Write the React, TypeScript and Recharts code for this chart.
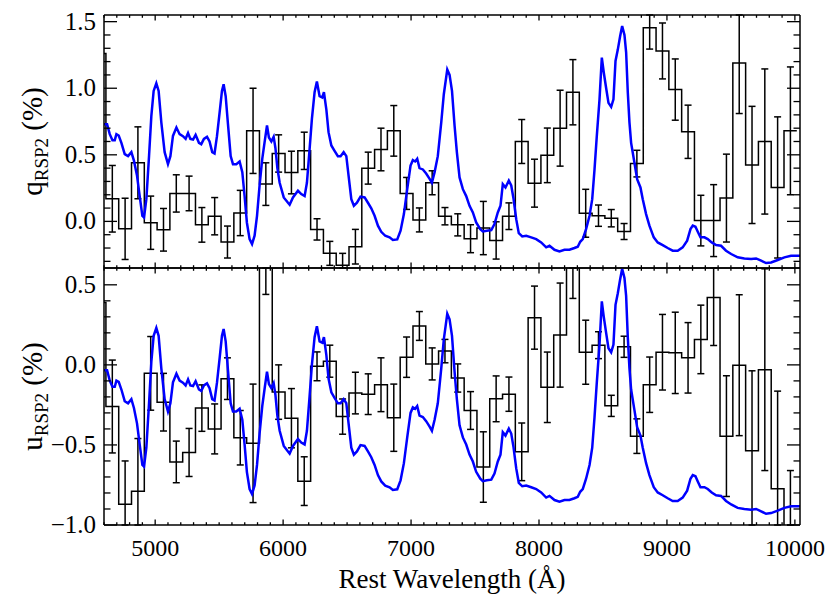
import React from 'react';
import { ComposedChart, Line, XAxis, YAxis, ErrorBar } from 'recharts';

const FONT = '"Liberation Serif", "Times New Roman", serif';

// ---- binned polarization (bin centres, 100 Å bins) ----
const BIN_CENTERS = [
  4665, 4765, 4865, 4965, 5065, 5165, 5265, 5365, 5465, 5565,
  5665, 5765, 5865, 5965, 6065, 6165, 6265, 6365, 6465, 6565,
  6665, 6765, 6865, 6965, 7065, 7165, 7265, 7365, 7465, 7565,
  7665, 7765, 7865, 7965, 8065, 8165, 8265, 8365, 8465, 8565,
  8665, 8765, 8865, 8965, 9065, 9165, 9265, 9365, 9465, 9565,
  9665, 9765, 9865, 9965,
];
const BIN_WIDTH = 100;

const Q_LEAD = 1.26; // bin just left of the plotted range
const Q_VALUES = [
  0.17, -0.056, 0.44, -0.01, -0.063, 0.21, 0.21, -0.026, 0.039, -0.155,
  0.063, 0.68, 0.28, 0.51, 0.367, 0.53, -0.06, -0.24, -0.33, -0.19,
  0.40, 0.54, 0.68, 0.21, 0.011, 0.29, 0.039, -0.026, -0.13, -0.05,
  -0.143, 0.039, 0.60, 0.287, 0.496, 0.70, 0.97, 0.061, 0.043, 0.024,
  -0.076, 0.434, 1.454, 1.28, 0.99, 0.673, 0.006, 0.006, 0.175, 1.19,
  0.424, 0.60, 0.255, 0.68,
];
const Q_ERRORS = [
  0.25, 0.23, 0.27, 0.20, 0.16, 0.14, 0.13, 0.13, 0.14, 0.12,
  0.17, 0.32, 0.16, 0.14, 0.16, 0.14, 0.08, 0.09, 0.09, 0.13,
  0.12, 0.16, 0.19, 0.12, 0.09, 0.09, 0.065, 0.083, 0.105, 0.20,
  0.14, 0.10, 0.165, 0.18, 0.205, 0.285, 0.245, 0.18, 0.08, 0.065,
  0.06, 0.10, 0.16, 0.21, 0.23, 0.20, 0.19, 0.27, 0.33, 0.38,
  0.44, 0.545, 0.53, 0.48,
];

const U_LEAD = 0.39;
const U_VALUES = [
  -0.26, -0.87, -0.79, -0.053, -0.233, -0.606, -0.547, -0.27, -0.40, -0.086,
  -0.455, -0.49, 0.75, -0.17, -0.333, -0.726, -0.009, 0.023, -0.323, -0.176,
  -0.183, -0.124, -0.33, 0.048, 0.243, 0.006, 0.086, -0.082, -0.285, -0.638,
  -0.212, -0.183, -0.543, 0.295, -0.14, 0.186, 0.72, 0.079, 0.123, -0.256,
  0.113, -0.445, -0.124, 0.079, 0.075, 0.044, 0.159, 0.421, -0.445, -0.002,
  -0.537, -0.03, -0.774, -1.10,
];
const U_ERRORS = [
  0.29, 0.27, 0.33, 0.23, 0.18, 0.13, 0.15, 0.145, 0.156, 0.13,
  0.17, 0.37, 0.31, 0.17, 0.185, 0.152, 0.09, 0.10, 0.11, 0.13,
  0.127, 0.168, 0.21, 0.126, 0.09, 0.10, 0.073, 0.088, 0.118, 0.22,
  0.143, 0.107, 0.18, 0.197, 0.22, 0.325, 0.305, 0.20, 0.084, 0.066,
  0.066, 0.108, 0.173, 0.236, 0.254, 0.22, 0.214, 0.30, 0.377, 0.44,
  0.50, 0.63, 0.61, 0.44,
];

// ---- scaled flux spectrum (in q-panel units) ----
const SPEC_WAVE = [
  4598, 4624, 4645, 4666, 4684, 4697, 4715, 4736, 4762, 4788, 4814, 4834, 4858, 4879, 4900, 4913,
  4931, 4952, 4970, 4988, 5009, 5027, 5048, 5074, 5100, 5119, 5139, 5166, 5191, 5217, 5238, 5257,
  5275, 5296, 5316, 5342, 5360, 5381, 5405, 5425, 5446, 5464, 5483, 5504, 5522, 5535, 5551, 5569,
  5590, 5608, 5634, 5660, 5681, 5699, 5717, 5738, 5757, 5777, 5796, 5816, 5837, 5855, 5874, 5889,
  5908, 5926, 5940, 5955, 5973, 6005, 6038, 6051, 6077, 6116, 6142, 6168, 6186, 6207, 6225, 6246,
  6264, 6285, 6306, 6319, 6338, 6355, 6377, 6402, 6428, 6449, 6473, 6494, 6512, 6533, 6553, 6577,
  6605, 6637, 6663, 6689, 6715, 6741, 6767, 6798, 6832, 6858, 6892, 6918, 6944, 6970, 6996, 7014,
  7032, 7048, 7066, 7092, 7118, 7145, 7163, 7184, 7209, 7236, 7256, 7283, 7301, 7320, 7340, 7358,
  7379, 7405, 7431, 7457, 7483, 7509, 7541, 7561, 7592, 7627, 7652, 7678, 7699, 7717, 7738, 7764,
  7783, 7801, 7822, 7842, 7869, 7900, 7939, 7978, 8017, 8056, 8082, 8121, 8160, 8199, 8238, 8277,
  8303, 8322, 8342, 8368, 8395, 8416, 8434, 8452, 8473, 8491, 8506, 8525, 8543, 8564, 8582, 8598,
  8616, 8634, 8650, 8668, 8681, 8694, 8707, 8720, 8746, 8767, 8793, 8811, 8837, 8863, 8897, 8928,
  8967, 9006, 9045, 9084, 9123, 9158, 9184, 9202, 9223, 9241, 9262, 9293, 9319, 9350, 9384, 9423,
  9462, 9502, 9553, 9605, 9658, 9697, 9736, 9775, 9814, 9866, 9918, 9970, 10045,
];
const SPEC_FLUX = [
  0.73, 0.73, 0.655, 0.61, 0.61, 0.655, 0.645, 0.59, 0.505, 0.49, 0.52, 0.456, 0.344, 0.19, 0.042, 0.03,
  0.167, 0.49, 0.79, 0.98, 1.037, 0.98, 0.744, 0.52, 0.43, 0.49, 0.642, 0.705, 0.655, 0.64, 0.62, 0.664,
  0.62, 0.615, 0.65, 0.59, 0.58, 0.62, 0.635, 0.60, 0.52, 0.51, 0.64, 0.82, 0.98, 1.03, 0.94, 0.73,
  0.49, 0.43, 0.43, 0.45, 0.37, 0.19, -0.01, -0.133, -0.17, -0.107, 0.042, 0.27, 0.47, 0.594, 0.72, 0.63,
  0.60, 0.635, 0.55, 0.40, 0.29, 0.18, 0.14, 0.125, 0.18, 0.23, 0.205, 0.19, 0.29, 0.542, 0.77, 0.97,
  1.05, 0.94, 0.93, 0.97, 0.84, 0.67, 0.57, 0.53, 0.49, 0.49, 0.52, 0.49, 0.34, 0.167, 0.117, 0.14,
  0.186, 0.18, 0.14, 0.098, 0.042, -0.032, -0.078, -0.108, -0.12, -0.14, -0.135, -0.07, 0.055, 0.242, 0.42, 0.46,
  0.45, 0.47, 0.40, 0.39, 0.36, 0.32, 0.29, 0.37, 0.49, 0.744, 0.955, 1.14, 1.10, 0.98, 0.72, 0.52,
  0.33, 0.242, 0.19, 0.117, 0.067, -0.008, -0.058, -0.076, -0.07, -0.065, -0.02, 0.067, 0.117, 0.28, 0.255, 0.306,
  0.27, 0.17, 0.017, -0.088, -0.113, -0.108, -0.12, -0.133, -0.158, -0.195, -0.183, -0.213, -0.225, -0.213, -0.213, -0.20,
  -0.19, -0.153, -0.133, -0.058, 0.042, 0.167, 0.39, 0.644, 0.917, 1.23, 1.12, 1.0, 0.89, 0.86, 0.917, 1.205,
  1.29, 1.39, 1.467, 1.40, 1.27, 0.97, 0.744, 0.59, 0.44, 0.317, 0.255, 0.167, 0.055, -0.032, -0.12, -0.158,
  -0.178, -0.20, -0.22, -0.22, -0.195, -0.145, -0.058, -0.032, -0.04, -0.078, -0.12, -0.12, -0.133, -0.158, -0.178, -0.183,
  -0.22, -0.245, -0.27, -0.278, -0.283, -0.278, -0.295, -0.313, -0.308, -0.29, -0.27, -0.258, -0.258,
];
// the same spectrum is drawn in the u panel with this offset / gain
const U_SPEC_OFFSET = -0.661;
const U_SPEC_GAIN = 0.8596;

// ---- axes ----
const X_DOMAIN: [number, number] = [4600, 10040];
const Q_DOMAIN: [number, number] = [-0.35, 1.55];
const U_DOMAIN: [number, number] = [-1.0, 0.605];
const X_MAJOR = [5000, 6000, 7000, 8000, 9000, 10000];
const X_TICKS: number[] = [];
for (let w = 4600; w <= 10000; w += 100) X_TICKS.push(w);
const Q_TICKS = [-0.3, -0.2, -0.1, 0, 0.1, 0.2, 0.3, 0.4, 0.5, 0.6, 0.7, 0.8, 0.9, 1.0, 1.1, 1.2, 1.3, 1.4, 1.5];
const U_TICKS = [-1.0, -0.9, -0.8, -0.7, -0.6, -0.5, -0.4, -0.3, -0.2, -0.1, 0, 0.1, 0.2, 0.3, 0.4, 0.5];

// ---- tables built from the arrays ----
function histTable(lead: number, vals: number[]) {
  const rows = [{ x: BIN_CENTERS[0] - 1.5 * BIN_WIDTH, y: lead }];
  vals.forEach((v, i) => rows.push({ x: BIN_CENTERS[i] - BIN_WIDTH / 2, y: v }));
  rows.push({ x: BIN_CENTERS[BIN_CENTERS.length - 1] + BIN_WIDTH / 2, y: vals[vals.length - 1] });
  return rows;
}
// error bars are limited to the visible y range (the library does not clip them)
function errTable(vals: number[], errs: number[], dom: [number, number]) {
  return vals.map((v, i) => {
    const lo = Math.max(v - errs[i], dom[0]);
    const hi = Math.min(v + errs[i], dom[1]);
    return { x: BIN_CENTERS[i], y: v, e: [v - lo, hi - v] };
  });
}
const qHist = histTable(Q_LEAD, Q_VALUES);
const uHist = histTable(U_LEAD, U_VALUES);
const qErr = errTable(Q_VALUES, Q_ERRORS, Q_DOMAIN);
const uErr = errTable(U_VALUES, U_ERRORS, U_DOMAIN);
const qSpec = SPEC_WAVE.map((w, i) => ({ x: w, y: SPEC_FLUX[i] }));
const uSpec = SPEC_WAVE.map((w, i) => ({ x: w, y: U_SPEC_OFFSET + U_SPEC_GAIN * SPEC_FLUX[i] }));

const fmt = (v: number) => (v < -1e-9 ? '\u2212' : '') + Math.abs(v).toFixed(1);
const isMajorY = (v: number) => Math.abs(v * 2 - Math.round(v * 2)) < 1e-6;

function makeXTick(side: 'top' | 'bottom', labels: boolean) {
  return (props: any) => {
    const { x, y, payload } = props;
    const v = payload.value as number;
    const major = X_MAJOR.includes(v);
    const len = major ? 5.5 : 2.8;
    const dir = side === 'bottom' ? -1 : 1;
    return (
      <g>
        <line x1={x} x2={x} y1={y} y2={y + dir * len} stroke="#000" strokeWidth={1.3} />
        {labels && major ? (
          <text x={x} y={y + 31} textAnchor="middle" fontFamily={FONT} fontSize={24} fill="#000">
            {v}
          </text>
        ) : null}
      </g>
    );
  };
}

function makeYTick(side: 'left' | 'right', labels: boolean) {
  return (props: any) => {
    const { x, y, payload } = props;
    const v = payload.value as number;
    const major = isMajorY(v);
    const len = major ? 13 : 6.5;
    const dir = side === 'left' ? 1 : -1;
    return (
      <g>
        <line x1={x} x2={x + dir * len} y1={y} y2={y} stroke="#000" strokeWidth={1.3} />
        {labels && major ? (
          <text x={x - 8} y={y + 8} textAnchor="end" fontFamily={FONT} fontSize={25} fill="#000">
            {fmt(v)}
          </text>
        ) : null}
      </g>
    );
  };
}

function yTitle(sym: string, cy: number) {
  return () => (
    <text
      x={42}
      y={cy}
      transform={`rotate(-90 42 ${cy})`}
      textAnchor="middle"
      fontFamily={FONT}
      fontSize={29}
      fill="#000"
    >
      {sym}
      <tspan fontSize={19} dy={6}>RSP2</tspan>
      <tspan dy={-6}> (%)</tspan>
    </text>
  );
}

const xTitle = () => (
  <text x={452} y={588} textAnchor="middle" fontFamily={FONT} fontSize={27} fill="#000">
    Rest Wavelength (Å)
  </text>
);

const AXIS_LINE = { stroke: '#000', strokeWidth: 1.5 };

function Panel(props: {
  top: number;
  bottom: number;
  domain: [number, number];
  ticks: number[];
  hist: { x: number; y: number }[];
  err: { x: number; y: number; e: number[] }[];
  spec: { x: number; y: number }[];
  sym: string;
  xLabels: boolean;
}) {
  const { top, bottom, domain, ticks, hist, err, spec, sym, xLabels } = props;
  const cy = (top + bottom) / 2;
  return (
    <div style={{ position: 'absolute', left: 0, top: 0 }}>
      <ComposedChart width={830} height={600} margin={{ top: top - 1, right: 0, bottom: 600 - bottom - 1, left: 0 }}>
        <XAxis
          xAxisId="b"
          orientation="bottom"
          type="number"
          dataKey="x"
          domain={X_DOMAIN}
          allowDataOverflow
          ticks={X_TICKS}
          interval={0}
          height={1}
          tickSize={0}
          tickMargin={0}
          tickLine={false}
          axisLine={AXIS_LINE}
          tick={makeXTick('bottom', xLabels)}
          label={xLabels ? xTitle : undefined}
        />
        <XAxis
          xAxisId="t"
          orientation="top"
          type="number"
          dataKey="x"
          domain={X_DOMAIN}
          allowDataOverflow
          ticks={X_TICKS}
          interval={0}
          height={1}
          tickSize={0}
          tickMargin={0}
          tickLine={false}
          axisLine={AXIS_LINE}
          tick={makeXTick('top', false)}
        />
        <YAxis
          yAxisId="l"
          orientation="left"
          type="number"
          dataKey="y"
          domain={domain}
          allowDataOverflow
          ticks={ticks}
          interval={0}
          width={104}
          tickSize={0}
          tickMargin={0}
          tickLine={false}
          axisLine={AXIS_LINE}
          tick={makeYTick('left', true)}
          label={yTitle(sym, cy)}
        />
        <YAxis
          yAxisId="r"
          orientation="right"
          type="number"
          dataKey="y"
          domain={domain}
          allowDataOverflow
          ticks={ticks}
          interval={0}
          width={30}
          tickSize={0}
          tickMargin={0}
          tickLine={false}
          axisLine={AXIS_LINE}
          tick={makeYTick('right', false)}
        />
        <Line
          xAxisId="b"
          yAxisId="l"
          data={hist}
          dataKey="y"
          type="stepAfter"
          stroke="#000"
          strokeWidth={1.5}
          dot={false}
          activeDot={false}
          isAnimationActive={false}
        />
        <Line
          xAxisId="b"
          yAxisId="l"
          data={err}
          dataKey="y"
          type="linear"
          stroke="none"
          strokeWidth={0}
          dot={false}
          activeDot={false}
          isAnimationActive={false}
        >
          <ErrorBar dataKey="e" direction="y" width={3.5} stroke="#000" strokeWidth={1.5} isAnimationActive={false} />
        </Line>
        <Line
          xAxisId="b"
          yAxisId="l"
          data={spec}
          dataKey="y"
          type="linear"
          stroke="#0000ff"
          strokeWidth={2.5}
          dot={false}
          activeDot={false}
          isAnimationActive={false}
        />
      </ComposedChart>
    </div>
  );
}

export default function App() {
  return (
    <div style={{ position: 'absolute', left: 0, top: 0, width: 830, height: 600, background: '#fff' }}>
      <Panel top={15} bottom={268} domain={Q_DOMAIN} ticks={Q_TICKS} hist={qHist} err={qErr} spec={qSpec} sym="q" xLabels={false} />
      <Panel top={268} bottom={525} domain={U_DOMAIN} ticks={U_TICKS} hist={uHist} err={uErr} spec={uSpec} sym="u" xLabels={true} />
    </div>
  );
}
